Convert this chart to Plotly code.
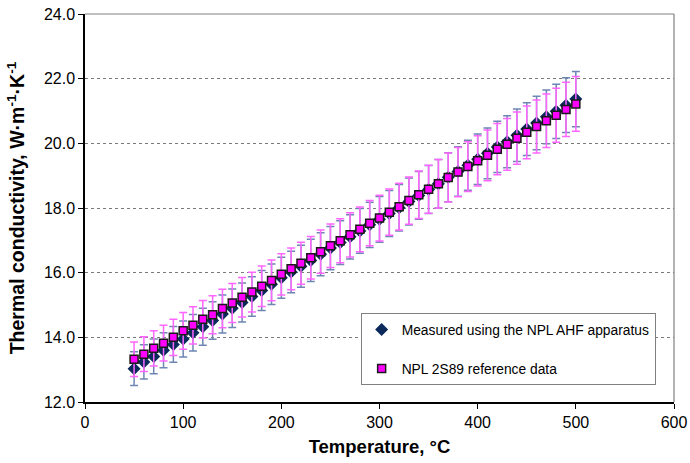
import plotly.graph_objects as go

temperature = [50, 60, 70, 80, 90, 100, 110, 120, 130, 140, 150, 160, 170, 180, 190,
               200, 210, 220, 230, 240, 250, 260, 270, 280, 290, 300, 310, 320, 330,
               340, 350, 360, 370, 380, 390, 400, 410, 420, 430, 440, 450, 460, 470,
               480, 490, 500]

measured = [13.03, 13.24, 13.41, 13.60, 13.78, 13.95, 14.14, 14.33, 14.52, 14.72,
            14.90, 15.08, 15.26, 15.45, 15.64, 15.84, 16.02, 16.20, 16.38, 16.57,
            16.76, 16.93, 17.11, 17.29, 17.48, 17.65, 17.83, 18.01, 18.20, 18.39,
            18.57, 18.75, 18.95, 19.13, 19.32, 19.51, 19.69, 19.89, 20.05, 20.25,
            20.44, 20.63, 20.82, 20.99, 21.18, 21.37]

reference = [13.32, 13.48, 13.66, 13.82, 14.00, 14.20, 14.37, 14.56, 14.70, 14.89,
             15.06, 15.24, 15.40, 15.58, 15.76, 15.95, 16.12, 16.29, 16.46, 16.65,
             16.83, 16.99, 17.17, 17.34, 17.53, 17.69, 17.87, 18.04, 18.23, 18.41,
             18.58, 18.75, 18.94, 19.11, 19.28, 19.46, 19.63, 19.82, 19.97, 20.16,
             20.34, 20.52, 20.70, 20.87, 21.05, 21.22]

error_percent = 4

x_ticks = [0, 100, 200, 300, 400, 500, 600]
y_ticks = [12, 14, 16, 18, 20, 22, 24]

FONT = "Liberation Sans, Arial, sans-serif"

fig = go.Figure()

fig.add_trace(go.Scatter(
    x=temperature, y=measured, mode="markers",
    name="Measured using the NPL AHF apparatus",
    legendgroup="a",
    marker=dict(symbol="diamond", size=10, color="#0B2A5B",
                line=dict(width=0)),
    error_y=dict(type="percent", value=error_percent, color="#6F86B3",
                 thickness=1.5, width=4),
))

fig.add_trace(go.Scatter(
    x=temperature, y=reference, mode="markers",
    name="NPL 2S89 reference data",
    legendgroup="b",
    marker=dict(symbol="square", size=8, color="#FF00FF",
                line=dict(width=1.5, color="#1a1a1a")),
    error_y=dict(type="percent", value=error_percent, color="#FF66FF",
                 thickness=1.5, width=4),
))

fig.update_layout(
    width=690, height=463,
    margin=dict(l=85, r=16, t=14, b=61, autoexpand=False),
    paper_bgcolor="white", plot_bgcolor="white",
    font=dict(family=FONT, size=15, color="#000000"),
    showlegend=True,
    legend=dict(
        x=0.468, y=0.229, xanchor="left", yanchor="top",
        bgcolor="white", bordercolor="#808080", borderwidth=1,
        font=dict(family=FONT, size=13.8, color="#000000"),
        tracegroupgap=18, itemwidth=30,
    ),
    xaxis=dict(
        range=[0, 600], tickvals=x_ticks, ticktext=[str(v) for v in x_ticks],
        showgrid=False, zeroline=False, automargin=False,
        showline=True, linecolor="#000000", linewidth=1.5,
        ticks="outside", ticklen=5, tickcolor="#000000", tickwidth=1.2,
        tickfont=dict(size=16), ticklabeloverflow="allow",
        title=dict(text="<b>Temperature, °C</b>", font=dict(size=18.5), standoff=10),
    ),
    yaxis=dict(
        range=[12, 24], tickvals=y_ticks, ticktext=[f"{v:.1f}" for v in y_ticks],
        showgrid=True, gridcolor="#7a7a7a", griddash="dot", gridwidth=1,
        zeroline=False, automargin=False,
        showline=True, linecolor="#000000", linewidth=1.5,
        ticks="outside", ticklen=5, tickcolor="#000000", tickwidth=1.2,
        tickfont=dict(size=16), ticklabeloverflow="allow",
        title=dict(text="<b>Thermal conductivity, W·m<sup>-1</sup>·K<sup>-1</sup></b>",
                   font=dict(size=19.5), standoff=14),
    ),
    shapes=[
        dict(type="line", xref="paper", yref="paper", x0=0, x1=1, y0=1, y1=1,
             line=dict(color="#808080", width=1.2)),
        dict(type="line", xref="paper", yref="paper", x0=1, x1=1, y0=0, y1=1,
             line=dict(color="#808080", width=1.2)),
    ],
)

fig.write_html(
    "out.html",
    config={"displayModeBar": False},
    post_script="document.body.style.margin='0';document.body.style.overflow='hidden';",
)
